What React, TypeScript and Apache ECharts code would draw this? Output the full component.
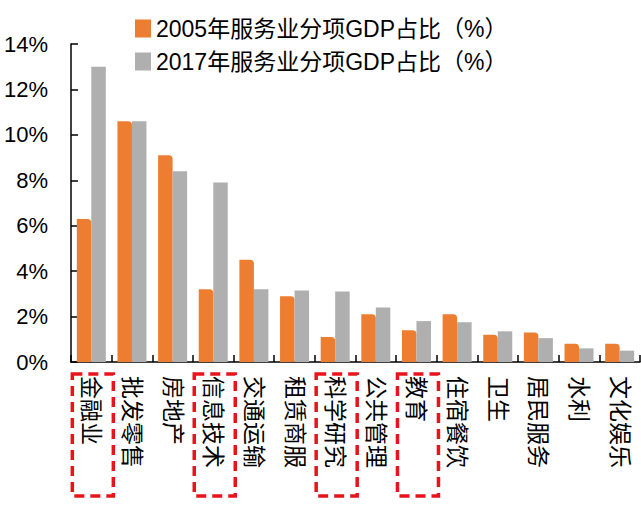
import React, { useEffect, useRef } from "react";
import * as echarts from "echarts";

const categories = ["金融业", "批发零售", "房地产", "信息技术", "交通运输", "租赁商服", "科学研究", "公共管理", "教育", "住宿餐饮", "卫生", "居民服务", "水利", "文化娱乐"];
const share2005 = [6.3, 10.6, 9.1, 3.2, 4.5, 2.9, 1.1, 2.1, 1.4, 2.1, 1.2, 1.3, 0.8, 0.8];
const share2017 = [13.0, 10.6, 8.4, 7.9, 3.2, 3.15, 3.1, 2.4, 1.8, 1.75, 1.35, 1.05, 0.6, 0.5];
const seriesNames = ["2005年服务业分项GDP占比（%）", "2017年服务业分项GDP占比（%）"];
const highlighted = ["金融业", "信息技术", "科学研究", "教育"];

const FONT = '"Liberation Sans", Arial, "Noto Sans CJK SC", sans-serif';

export default function App() {
  const ref = useRef<HTMLDivElement>(null);
  useEffect(() => {
    if (!ref.current) return;
    const chart = echarts.init(ref.current, null, { renderer: "svg" });
    chart.setOption({
      animation: false,
      backgroundColor: "#ffffff",
      textStyle: { fontFamily: FONT },
      legend: {
        orient: "vertical",
        left: 130,
        top: 12,
        itemWidth: 16,
        itemHeight: 18,
        itemGap: 10,
        icon: "rect",
        textStyle: { fontSize: 23, color: "#000", fontFamily: FONT, lineHeight: 22 },
        data: seriesNames,
      },
      grid: { left: 71, right: 1, top: 44, bottom: 145, containLabel: false },
      xAxis: {
        type: "category",
        data: categories,
        axisLine: { lineStyle: { color: "#000", width: 1.5 } },
        axisTick: { show: true, inside: true, length: 7, lineStyle: { color: "#000", width: 1.5 } },
        axisLabel: { rotate: -90, margin: 14, fontSize: 23, color: "#000", fontFamily: FONT, interval: 0 },
      },
      yAxis: {
        type: "value",
        min: 0,
        max: 14,
        interval: 2,
        axisLine: { show: true, lineStyle: { color: "#000", width: 1.5 } },
        axisTick: { show: true, inside: true, length: 7, lineStyle: { color: "#000", width: 1.5 } },
        splitLine: { show: false },
        axisLabel: { formatter: "{value}%", fontSize: 22, color: "#000", margin: 23, fontFamily: FONT },
      },
      series: [
        {
          name: seriesNames[0],
          type: "bar",
          data: share2005,
          barWidth: 14.5,
          barGap: "0%",
          itemStyle: { color: "#ED7D31", borderRadius: [0, 4, 0, 0] },
        },
        {
          name: seriesNames[1],
          type: "bar",
          data: share2017,
          barWidth: 14.5,
          barGap: "0%",
          itemStyle: { color: "#AFAFAF" },
        },
      ],
    });
    const boxes = highlighted.map((c) => {
      const cx = chart.convertToPixel({ xAxisIndex: 0 }, c) as number;
      return {
        type: "rect",
        shape: { x: cx - 19, y: 374, width: 41, height: 122 },
        style: { fill: "none", stroke: "#E8141C", lineWidth: 3.5, lineDash: [10, 6] },
        z: 10,
      };
    });
    chart.setOption({ graphic: boxes });
    return () => chart.dispose();
  }, []);
  return <div ref={ref} style={{ position: "absolute", left: 0, top: 0, width: 641, height: 507 }} />;
}
